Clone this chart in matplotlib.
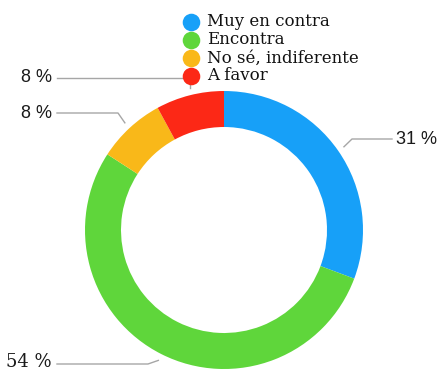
import numpy as np
import matplotlib.pyplot as plt
from matplotlib.lines import Line2D

# survey answers, clockwise from the top
labels = ['Muy en contra', 'Encontra', 'No sé, indiferente', 'A favor']
values = [31, 54, 8, 8]
colors = ['#17a0f8', '#5fd63b', '#f9b819', '#fc2816']

W, H = 440, 373
fig = plt.figure(figsize=(W / 100, H / 100), dpi=100)
ax = fig.add_axes([0, 0, 1, 1])

def py(y):
    # image-style y (top down) to axes y
    return H - y

cx, cy, R = 224, 230, 139
wedges, _ = ax.pie(values, colors=colors, startangle=90, counterclock=False,
                   center=(cx, py(cy)), radius=R,
                   wedgeprops=dict(width=36, linewidth=0))
ax.set_xlim(0, W)
ax.set_ylim(0, H)
ax.set_aspect('auto')
ax.axis('off')

# leader lines: text anchor, elbow point, then to the slice
label_pos = [(396, 139, 'left'), (52, 362, 'right'), (52, 113, 'right'), (52, 78, 'right')]
elbows = [(352, 139), (148, 364), (118, 113), (190, 78)]
line_start = [(392, 139), (57, 364), (57, 113), (57, 78)]
fonts = ['Liberation Sans', 'DejaVu Serif', 'Liberation Sans', 'Liberation Sans']

for i, w in enumerate(wedges):
    mid = np.deg2rad((w.theta1 + w.theta2) / 2)
    ex = cx + (R + 7) * np.cos(mid)
    ey = cy - (R + 7) * np.sin(mid)
    if i == 3:
        ex, ey = elbows[i][0], 88
    xs = [line_start[i][0], elbows[i][0], ex]
    ys = [py(line_start[i][1]), py(elbows[i][1]), py(ey)]
    ax.add_line(Line2D(xs, ys, color='#a6a6a6', lw=1.0, zorder=1))
    tx, ty, ha = label_pos[i]
    ax.text(tx, py(ty), f'{values[i]} %', ha=ha, va='center',
            fontsize=13, family=fonts[i], color='#1a1a1a')

# legend rows
for i, (lab, col) in enumerate(zip(labels, colors)):
    yy = py(22 + i * 18)
    ax.scatter([191], [yy], s=160, color=col, zorder=3, linewidths=0)
    ax.text(207, yy, lab, ha='left', va='center', fontsize=12,
            family='DejaVu Serif', color='#111111')

fig.savefig('out.png', dpi=100)
